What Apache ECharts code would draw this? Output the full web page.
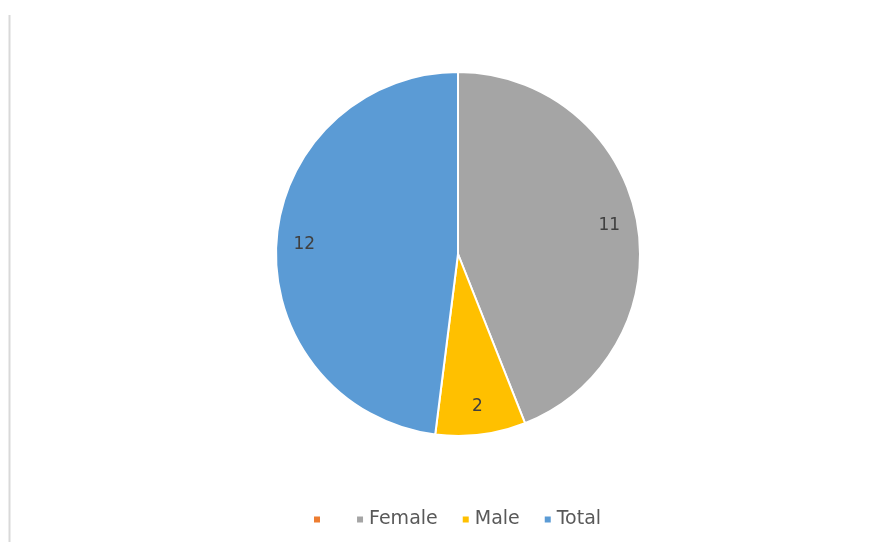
<!DOCTYPE html>
<html>
<head>
  <meta charset="UTF-8">
  <title>pie</title>
  <script type="text/javascript" src="https://cdn.jsdelivr.net/npm/echarts@6/dist/echarts.min.js"></script>
  <style type="text/css">
    *{ margin: 0; padding: 0; }
    body{ background: #fff; }
    #main{ width: 892px; height: 542px; }
  </style>
</head>
<body>
  <div id="main"></div>
  <script type="text/javascript">
    // data
    var names = [' ', 'Female', 'Male', 'Total'];
    var values = [0, 11, 2, 12];
    var colors = ['#ED7D31', '#A5A5A5', '#FFC000', '#5B9BD5'];

    var pieData = names.map(function (n, i) {
      return { name: n, value: values[i], itemStyle: { color: colors[i] } };
    });

    var myChart = echarts.init(document.getElementById('main'));
    var option = {
      animation: false,
      backgroundColor: '#fff',
      textStyle: { fontFamily: 'DejaVu Sans, sans-serif' },
      graphic: [{ // left frame edge
        type: 'line',
        shape: { x1: 9.5, y1: 15, x2: 9.5, y2: 542 },
        style: { stroke: '#d9d9d9', lineWidth: 2 }
      }],
      legend: {
        top: 505,
        left: 307,
        itemWidth: 8,
        itemHeight: 8,
        itemGap: 23,
        icon: 'rect',
        textStyle: { color: '#595959', fontSize: 19 },
        data: names
      },
      series: [
        {
          type: 'pie',
          center: [458, 254],
          radius: [0, 182],
          startAngle: 90,
          clockwise: true,
          data: pieData,
          itemStyle: { borderColor: '#fff', borderWidth: 2 },
          label: { show: false },
          labelLine: { show: false },
          emphasis: { disabled: true }
        },
        { // transparent ring only used to place the value labels
          type: 'pie',
          center: [458, 254],
          radius: [120, 182],
          startAngle: 90,
          clockwise: true,
          silent: true,
          data: pieData.map(function (d) { return { name: d.name, value: d.value }; }),
          itemStyle: { color: 'rgba(0,0,0,0)', borderWidth: 0 },
          label: {
            show: true,
            position: 'inside',
            color: '#404040',
            fontSize: 17,
            formatter: function (p) { return p.value ? String(p.value) : ''; }
          },
          labelLine: { show: false },
          emphasis: { disabled: true }
        }
      ]
    };
    myChart.setOption(option);
  </script>
</body>
</html>
